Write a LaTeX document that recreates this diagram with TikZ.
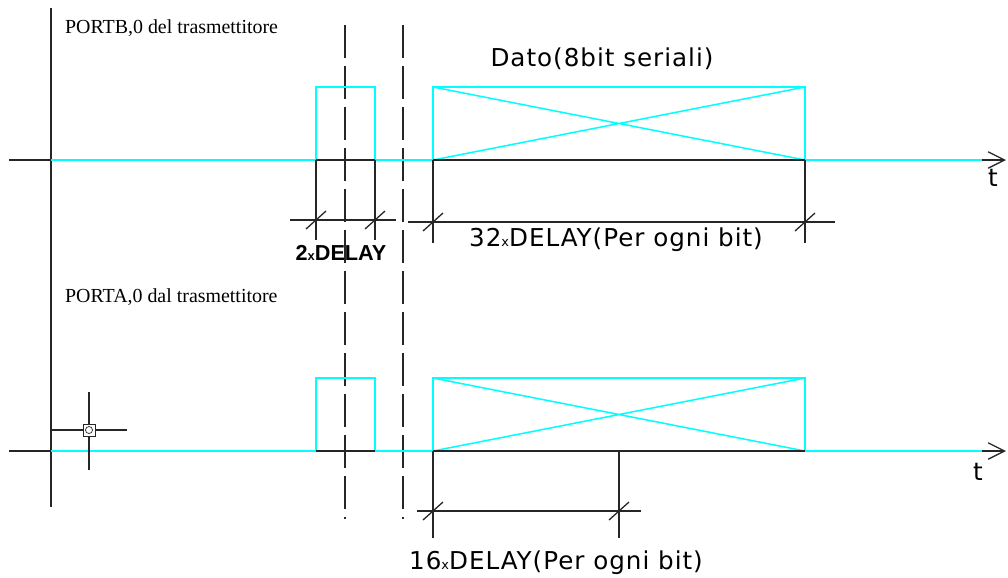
\documentclass[tikz,border=0pt]{standalone}
\usepackage{fontspec}
\setmainfont{Liberation Serif}
\newfontfamily\cadfont[LetterSpace=4]{DejaVu Sans}
\newfontfamily\cadbold{Liberation Sans}
\usetikzlibrary{arrows.meta}
\definecolor{ciano}{RGB}{0,255,255}

\begin{document}
\begin{tikzpicture}[x=0.03cm, y=-0.03cm, >={Straight Barb[length=14pt, width=14pt]},
    sig/.style={ciano, line width=1.3pt},
    nero/.style={black!85, line width=1.1pt},
    guida/.style={black!85, line width=1.1pt, dash pattern=on 28pt off 7pt},
    quota/.style={font=\cadfont\fontsize{21}{25}\selectfont},
    porta/.style={anchor=west, font=\fontsize{17}{20}\selectfont}]
    % 边框
    \useasboundingbox (0,0) rectangle (1008,577);

    % 纵轴与虚线
    \draw[nero] (51,8) -- (51,507);
    \draw[guida] (345,25) -- (345,519);
    \draw[guida] (403,25) -- (403,519);

    % 两条时间轴, 脉冲与数据框
    \foreach \y/\h in {160/87, 451/378} {
        \draw[nero] (9,\y) -- (51,\y);
        \draw[sig] (51,\y) -- (982,\y);
        \draw[nero, ->] (982,\y) -- (1006,\y);
        \draw[sig] (316,\y) |- (375,\h) -- (375,\y);
        \draw[sig] (433,\h) rectangle (805,\y);
        \draw[sig] (433,\y) -- (805,\h) (433,\h) -- (805,\y);
        \draw[nero] (316,\y) -- (375,\y) (433,\y) -- (805,\y);
    }

    % 尺寸线
    \draw[nero] (316,160) -- (316,240) (375,160) -- (375,240) (290,220) -- (396,220);
    \draw[nero] (433,160) -- (433,243) (805,160) -- (805,243) (408,222) -- (835,222);
    \draw[nero] (433,451) -- (433,538) (619,451) -- (619,538) (417,511) -- (641,511);
    \foreach \x/\y in {316/220, 375/220, 433/222, 805/222, 433/511, 619/511}
        \draw[nero] (\x-10,\y+9) -- (\x+10,\y-9);

    % 光标
    \draw[nero] (51,430) -- (127,430) (89,392) -- (89,470);
    \draw[nero, line width=0.8pt, fill=white] (83,424) rectangle (95,436);
    \draw[nero, line width=0.6pt] (89,430) circle (3.5);

    % 文字
    \node[porta] (portB) at (61,28) {PORTB,0 del trasmettitore};
    \node[porta] (portA) at (61,297) {PORTA,0 dal trasmettitore};
    \node[quota] (dato) at (602,59) {Dato(8bit seriali)};
    \node[font=\cadbold\bfseries\fontsize{18.5}{22}\selectfont] (q2) at (341,253)
        {2{\fontsize{11}{11}\selectfont x}DELAY};
    \node[quota] (q32) at (616,240) {32{\fontsize{11}{11}\selectfont x}DELAY(Per ogni bit)};
    \node[quota] (q16) at (556,563) {16{\fontsize{11}{11}\selectfont x}DELAY(Per ogni bit)};
    \node[quota] (tB) at (993,178) {t};
    \node[quota] (tA) at (978,472) {t};
\end{tikzpicture}
\end{document}
